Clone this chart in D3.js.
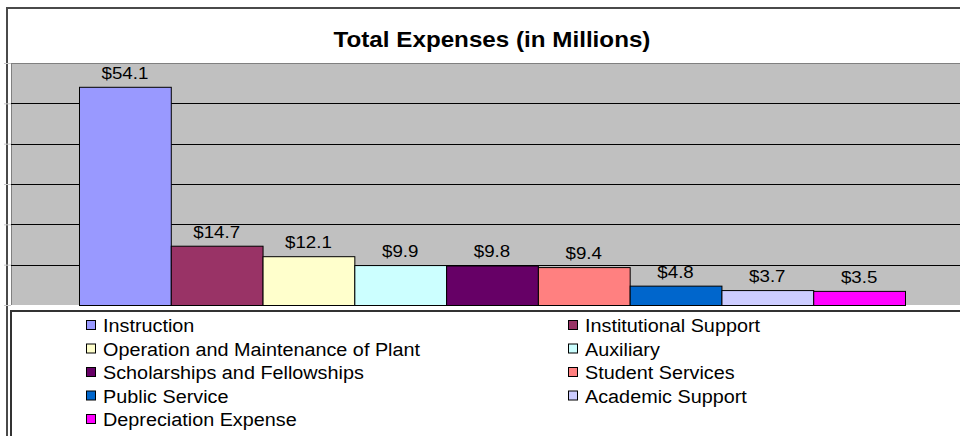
<!DOCTYPE html>
<html>
<head>
<meta charset="utf-8">
<script src="https://cdn.jsdelivr.net/npm/d3@7"></script>
<style>
  html, body { margin: 0; padding: 0; background: #fff; }
  svg { display: block; }
  text { font-family: "Liberation Sans", Arial, sans-serif; fill: #000; }
</style>
</head>
<body>
<svg id="chart" width="960" height="436"></svg>
<script>
// ---- data ----
const title = "Total Expenses (in Millions)";
const categories = [
  "Instruction",
  "Institutional Support",
  "Operation and Maintenance of Plant",
  "Auxiliary",
  "Scholarships and Fellowships",
  "Student Services",
  "Public Service",
  "Academic Support",
  "Depreciation Expense"
];
const values = [54.1, 14.7, 12.1, 9.9, 9.8, 9.4, 4.8, 3.7, 3.5];
const yTicks = [0, 10, 20, 30, 40, 50, 60];
const palette = ["#9999FF", "#993366", "#FFFFCC", "#CCFFFF", "#660066",
                 "#FF8080", "#0066CC", "#CCCCFF", "#FF00FF"];

// ---- layout ----
const svg = d3.select("#chart");
const W = 960, H = 436;
const plot = { left: 11, top: 63, right: 990, bottom: 305 };
const stretchK = 1.1;

function stretch(sel, k) {
  sel.each(function () {
    const len = this.getComputedTextLength();
    d3.select(this).attr("textLength", len * k).attr("lengthAdjust", "spacingAndGlyphs");
  });
}

const y = d3.scaleLinear().domain([0, 60]).range([plot.bottom, plot.top]);
const x = d3.scaleBand().domain(categories).range([79, 905]).padding(0);
const color = d3.scaleOrdinal().domain(categories).range(palette);

// background
svg.append("rect").attr("width", W).attr("height", H).attr("fill", "#fff");

// outer frame
svg.append("line").attr("x1", 7).attr("x2", 7).attr("y1", 7).attr("y2", H)
  .attr("stroke", "#4a4a4a").attr("stroke-width", 2);
svg.append("line").attr("x1", 6).attr("x2", W).attr("y1", 8).attr("y2", 8)
  .attr("stroke", "#4a4a4a").attr("stroke-width", 2);

// title
const t = svg.append("text")
  .attr("x", 492).attr("y", 47)
  .attr("text-anchor", "middle")
  .attr("font-size", 22).attr("font-weight", "bold")
  .text(title);
stretch(t, stretchK);

// plot area
svg.append("rect")
  .attr("x", plot.left).attr("y", plot.top)
  .attr("width", plot.right - plot.left).attr("height", plot.bottom - plot.top)
  .attr("fill", "#C0C0C0");
svg.append("line").attr("x1", plot.left).attr("x2", W).attr("y1", plot.top + 0.5).attr("y2", plot.top + 0.5)
  .attr("stroke", "#808080").attr("stroke-width", 1);
svg.append("line").attr("x1", plot.left + 0.5).attr("x2", plot.left + 0.5).attr("y1", plot.top).attr("y2", plot.bottom)
  .attr("stroke", "#808080").attr("stroke-width", 1);

// gridlines
svg.append("g").selectAll("line")
  .data(yTicks.filter(v => v > 0 && v < 60))
  .join("line")
  .attr("x1", plot.left).attr("x2", W)
  .attr("y1", d => Math.round(y(d)) + 0.5).attr("y2", d => Math.round(y(d)) + 0.5)
  .attr("stroke", "#000").attr("stroke-width", 1);

// faint y-axis ticks (labels are cropped away in the original)
const yAxis = d3.axisLeft(y).tickValues(yTicks).tickSize(7).tickFormat("");
const ag = svg.append("g").attr("transform", `translate(${plot.left},0)`).call(yAxis);
ag.select(".domain").remove();
ag.selectAll(".tick line").attr("stroke", "#c8c8c8");

// bars
svg.append("g").selectAll("rect")
  .data(categories.map((c, i) => ({ c, v: values[i] })))
  .join("rect")
  .attr("x", d => x(d.c) + 0.5)
  .attr("y", d => y(d.v) + 0.5)
  .attr("width", x.bandwidth())
  .attr("height", d => plot.bottom - y(d.v))
  .attr("fill", d => color(d.c))
  .attr("stroke", "#000").attr("stroke-width", 1);

// value labels
const labels = svg.append("g").selectAll("text")
  .data(categories.map((c, i) => ({ c, v: values[i] })))
  .join("text")
  .attr("x", d => x(d.c) + x.bandwidth() / 2)
  .attr("y", d => y(d.v) - 8)
  .attr("text-anchor", "middle")
  .attr("font-size", 17)
  .attr("fill", "#111")
  .text(d => "$" + d.v.toFixed(1));
stretch(labels, stretchK);

// legend box
svg.append("rect")
  .attr("x", 11).attr("y", 311).attr("width", 1000).attr("height", 200)
  .attr("fill", "#fff").attr("stroke", "#333").attr("stroke-width", 2);

// legend items
const colX = [86, 568];
const legend = svg.append("g").selectAll("g")
  .data(categories)
  .join("g")
  .attr("transform", (d, i) => `translate(${colX[i % 2]},${332 + Math.floor(i / 2) * 23.5})`);
legend.append("rect")
  .attr("x", 0.5).attr("y", -11.5).attr("width", 9).attr("height", 9)
  .attr("fill", d => color(d)).attr("stroke", "#000").attr("stroke-width", 1);
const ltext = legend.append("text")
  .attr("x", 17).attr("y", 0)
  .attr("font-size", 18)
  .text(d => d);
stretch(ltext, stretchK);
</script>
</body>
</html>
